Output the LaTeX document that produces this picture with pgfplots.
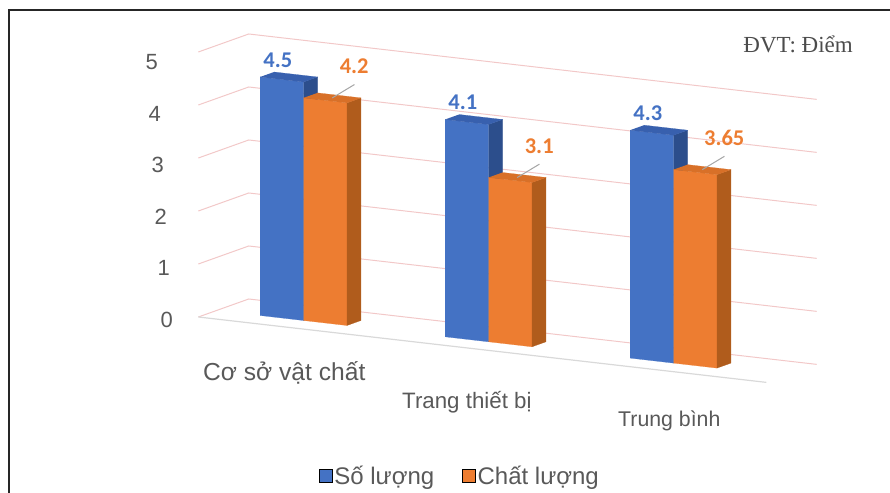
\documentclass[border=0pt]{standalone}
\usepackage{pgfplots}
\pgfplotsset{compat=1.18}
\usepackage{fontspec}
\setmainfont{Liberation Sans}
\newfontfamily\calibri{Carlito}
\newfontfamily\timesf{Liberation Serif}
\usetikzlibrary{calc}
\definecolor{txt}{RGB}{89,89,89}
\definecolor{bfront}{RGB}{68,114,196}
\definecolor{bside}{RGB}{44,78,140}
\definecolor{btop}{RGB}{56,96,174}
\definecolor{ofront}{RGB}{237,125,49}
\definecolor{oside}{RGB}{176,92,28}
\definecolor{otop}{RGB}{216,112,40}
\definecolor{gridpink}{RGB}{242,200,200}
\definecolor{floorgray}{RGB}{217,217,217}
\definecolor{leader}{RGB}{166,166,166}
% x0, x1, value, front, side, top
\newcommand{\cuboid}[6]{%
 \addplot3[forget plot, draw=#4, line width=0.2pt, fill=#4] coordinates {(#1,1.3,0) (#2,1.3,0) (#2,1.3,#3) (#1,1.3,#3)};
 \addplot3[forget plot, draw=#5, line width=0.2pt, fill=#5] coordinates {(#2,1.3,0) (#2,2.3,0) (#2,2.3,#3) (#2,1.3,#3)};
 \addplot3[forget plot, draw=#6, line width=0.2pt, fill=#6] coordinates {(#1,1.3,#3) (#2,1.3,#3) (#2,2.3,#3) (#1,2.3,#3)};
}
\begin{document}
\begin{tikzpicture}
\begin{axis}[
  x={(185pt,-21.3pt)}, y={(14pt,5pt)}, z={(0pt,53pt)},
  xmin=0.53, xmax=3.6, ymin=0, ymax=3.6, zmin=0, zmax=5,
  hide axis, clip=false,
  legend columns=2,
  legend image code/.code={\fill[#1] (0pt,-6.5pt) rectangle (13pt,6.5pt);},
  legend style={at={(0.423,-0.269)}, anchor=center, draw=none, fill=none,
    font=\fontsize{24}{28}\selectfont, text=txt,
    /tikz/every even column/.append style={column sep=26pt},
    /tikz/every odd column/.append style={column sep=0pt}},
]
% walls: gridlines on side and back wall
\pgfplotsinvokeforeach{0,1,2,3,4,5}{
  \addplot3[forget plot, gridpink, line width=1pt] coordinates {(0.53,0,#1) (0.53,3.6,#1) (3.6,3.6,#1)};
}
% floor front edge
\addplot3[forget plot, floorgray, line width=1.2pt] coordinates {(0.53,0,0) (3.6,0,0)};
% bars: Cơ sở vật chất
\cuboid{0.765}{1.0}{4.5}{bfront}{bside}{btop}
\cuboid{1.0}{1.235}{4.2}{ofront}{oside}{otop}
% Trang thiết bị
\cuboid{1.765}{2.0}{4.1}{bfront}{bside}{btop}
\cuboid{2.0}{2.235}{3.1}{ofront}{oside}{otop}
% Trung bình
\cuboid{2.765}{3.0}{4.3}{bfront}{bside}{btop}
\cuboid{3.0}{3.235}{3.65}{ofront}{oside}{otop}
% leader lines for orange labels
\addplot3[forget plot, leader, line width=1pt] coordinates {(1.1175,1.8,4.2) (1.2375,1.8,4.5)};
\addplot3[forget plot, leader, line width=1pt] coordinates {(2.1175,1.8,3.1) (2.2375,1.8,3.4)};
\addplot3[forget plot, leader, line width=1pt] coordinates {(3.1175,1.8,3.65) (3.2375,1.8,3.95)};
% data labels
\addplot3[forget plot, draw=none, mark=none, point meta=explicit symbolic, nodes near coords,
  nodes near coords style={anchor=south, yshift=11pt, xshift=-4pt, inner sep=1pt, text=bfront,
  font=\calibri\bfseries\fontsize{22.5}{22.5}\selectfont}]
  coordinates {(0.8825,1.3,4.5) [4.5] (1.8825,1.3,4.1) [4.1] (2.8825,1.3,4.3) [4.3]};
\addplot3[forget plot, draw=none, mark=none, point meta=explicit symbolic, nodes near coords,
  nodes near coords style={anchor=south, xshift=22pt, yshift=23pt, inner sep=1pt, text=ofront,
  font=\calibri\bfseries\fontsize{22.5}{22.5}\selectfont}]
  coordinates {(1.1175,1.8,4.2) [4.2] (2.1175,1.8,3.1) [3.1] (3.1175,1.8,3.65) [3.65]};
% tick labels
\foreach \k/\xs/\ys in {0/25.4/3,1/28.4/4.4,2/31.4/5.8,3/34.4/7.2,4/37.4/8.6,5/40.4/10}{
  \edef\tmp{\noexpand\node[anchor=east, inner sep=0pt, text=txt, font=\noexpand\fontsize{22}{22}\noexpand\selectfont, xshift=-\xs pt, yshift=-\ys pt] at (axis cs:0.53,0,\k) {\k};}
  \tmp
}
\addlegendimage{fill=bfront}
\addlegendentry{Số lượng}
\addlegendimage{fill=ofront}
\addlegendentry{Chất lượng}
\coordinate (O) at (axis cs:0,0,0);
\end{axis}
\coordinate (TL) at ($(O)+(-100.3pt,305.7pt)$);
% category labels
\node[anchor=base west, inner sep=0pt, text=txt, font=\fontsize{24.6}{26}\selectfont] at ($(TL)+(203pt,-380pt)$) {Cơ sở vật chất};
\node[anchor=base west, inner sep=0pt, text=txt, font=\fontsize{22.3}{24}\selectfont] at ($(TL)+(402pt,-408pt)$) {Trang thiết bị};
\node[anchor=base west, inner sep=0pt, text=txt, font=\fontsize{21.3}{23}\selectfont] at ($(TL)+(618pt,-426pt)$) {Trung bình};
% unit note
\node[anchor=base east, inner sep=0pt, text=black!70, font=\timesf\fontsize{23}{25}\selectfont] at ($(TL)+(853pt,-53pt)$) {ĐVT: Điểm};
% frame
\draw[line width=1.8pt, black!85] ($(TL)+(9pt,-500pt)$) -- ($(TL)+(9pt,-10pt)$) -- ($(TL)+(900pt,-10pt)$);
\pgfresetboundingbox
\path[use as bounding box] (TL) rectangle ($(TL)+(890pt,-492pt)$);
\end{tikzpicture}
\end{document}
